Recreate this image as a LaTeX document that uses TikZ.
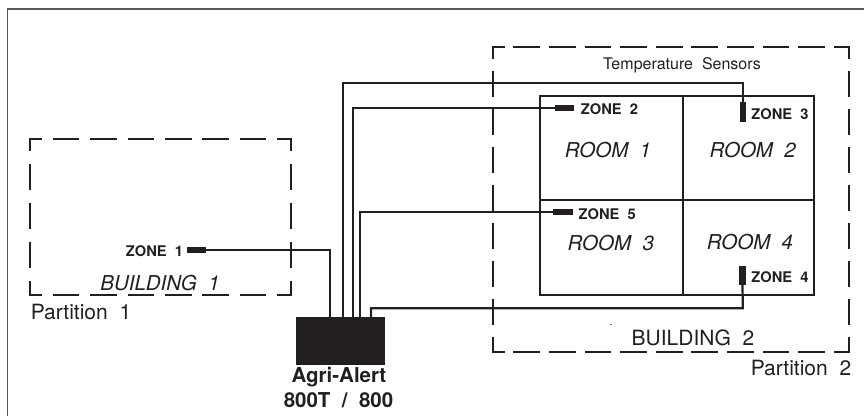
\documentclass[tikz,border=0pt]{standalone}
\usepackage{fontspec}
\setmainfont{TeX Gyre Heros}
\definecolor{ink}{HTML}{231F20}
\tikzset{
  x=1pt,y=-1pt,
  wire/.style={draw=ink,line width=2.2pt,line join=miter},
  room/.style={draw=ink,line width=2.2pt},
  parth/.style={draw=ink,line width=2.2pt,dash pattern=on 26.7pt off 8.9pt,dash phase=14.2pt},
  parthw/.style={draw=ink,line width=2.2pt,dash pattern=on 26.7pt off 10.7pt,dash phase=13.7pt},
  partv/.style={draw=ink,line width=2.2pt,dash pattern=on 26.5pt off 12.5pt,dash phase=13.5pt},
  partvw/.style={draw=ink,line width=2.2pt,dash pattern=on 26.5pt off 11.5pt,dash phase=13.5pt},
  sensor/.style={fill=ink,draw=none,inner sep=0pt},
  zonelab/.style={font=\fontsize{14.7}{16}\selectfont\bfseries,text=ink,inner sep=0pt},
  roomlab/.style={font=\fontsize{20.5}{24}\selectfont\itshape,text=ink,inner sep=0pt},
  plainlab/.style={font=\fontsize{21}{25}\selectfont,text=ink,inner sep=0pt},
  devlab/.style={font=\fontsize{20.5}{24}\selectfont\bfseries,text=ink,inner sep=0pt}
}
\begin{document}
\begin{tikzpicture}
\useasboundingbox (0,0) rectangle (864,416);
\draw[black!65,line width=1.5pt] (7.3,416) -- (7.3,9) -- (864,9);
% partitions
\draw[parthw] (29,139) -- (292,139);
\draw[parthw] (29,295) -- (292,295);
\draw[partv] (30,138) -- (30,296);
\draw[partv] (291,138) -- (291,296);
\draw[parth] (492,47) -- (850,47);
\draw[parth] (492,352) -- (850,352);
\draw[partvw] (493,46) -- (493,353);
\draw[partvw] (849,46) -- (849,353);
% rooms
\draw[room] (540.3,96) rectangle (814.3,295);
\draw[room] (682.7,96) -- (682.7,295);
\draw[room] (540.3,200) -- (814.3,200);
% device
\node[fill=ink,inner sep=0pt,minimum width=89pt,minimum height=48pt,anchor=north west] (dev) at (295.3,316.7) {};
% sensors
\node[sensor,minimum width=19.5pt,minimum height=6pt] (z1) at (196.5,250) {};
\node[sensor,minimum width=19.5pt,minimum height=6pt] (z2) at (564.7,108) {};
\node[sensor,minimum width=19.5pt,minimum height=6pt] (z5) at (563,212.3) {};
\node[sensor,minimum width=6.4pt,minimum height=20pt] (z3) at (742.8,112) {};
\node[sensor,minimum width=6.4pt,minimum height=19pt] (z4) at (742.5,275.5) {};
% wires
\coordinate (p1) at (330,317);
\coordinate (p2) at (343,317);
\coordinate (p3) at (353,317);
\coordinate (p5) at (360,317);
\coordinate (p4) at (371,317);
\coordinate (c3) at (742.8,83);
\coordinate (c2) at (343,83);
\coordinate (c4) at (742.8,308.3);
\coordinate (c5) at (371,308.3);
\draw[wire] (z1.east) -| (p1);
\draw[wire] (z3.north) -- (c3) -- (c2) -- (p2);
\draw[wire] (z2.west) -| (p3);
\draw[wire] (z5.west) -| (p5);
\draw[wire] (z4.south) -- (c4) -- (c5) -- (p4);
% labels
\node[zonelab] (l1) at (154.5,251.5) {ZONE\ \ 1};
\node[zonelab] (l2) at (609.5,109) {ZONE\ \ 2};
\node[zonelab] (l3) at (780,114) {ZONE\ \ 3};
\node[zonelab] (l5) at (607.2,214) {ZONE\ \ 5};
\node[zonelab] (l4) at (780,276.7) {ZONE\ \ 4};
\node[roomlab] (r1) at (608,150) {ROOM\ \ 1};
\node[roomlab] (r2) at (752.7,150) {ROOM\ \ 2};
\node[roomlab] (r3) at (610.8,242.7) {ROOM\ \ 3};
\node[roomlab] (r4) at (750,242) {ROOM\ \ 4};
\node[roomlab] (b1) at (160,283.3) {BUILDING\ \ 1};
\node[plainlab] (b2) at (693,338) {BUILDING\ \ 2};
\node[plainlab] (p1l) at (81,311.7) {Partition\ \ 1};
\node[plainlab] (p2l) at (801,368) {Partition\ \ 2};
\node[font=\fontsize{16}{19}\selectfont,text=ink,inner sep=0pt] (ts) at (682,65) {Temperature\ \ Sensors};
\node[devlab] (d1) at (339,376.7) {Agri-Alert};
\node[devlab] (d2) at (338.5,400) {800T\ \ /\ \ 800};
\fill[black!50] (610,323.5) rectangle (612,324.5);
\end{tikzpicture}
\end{document}
